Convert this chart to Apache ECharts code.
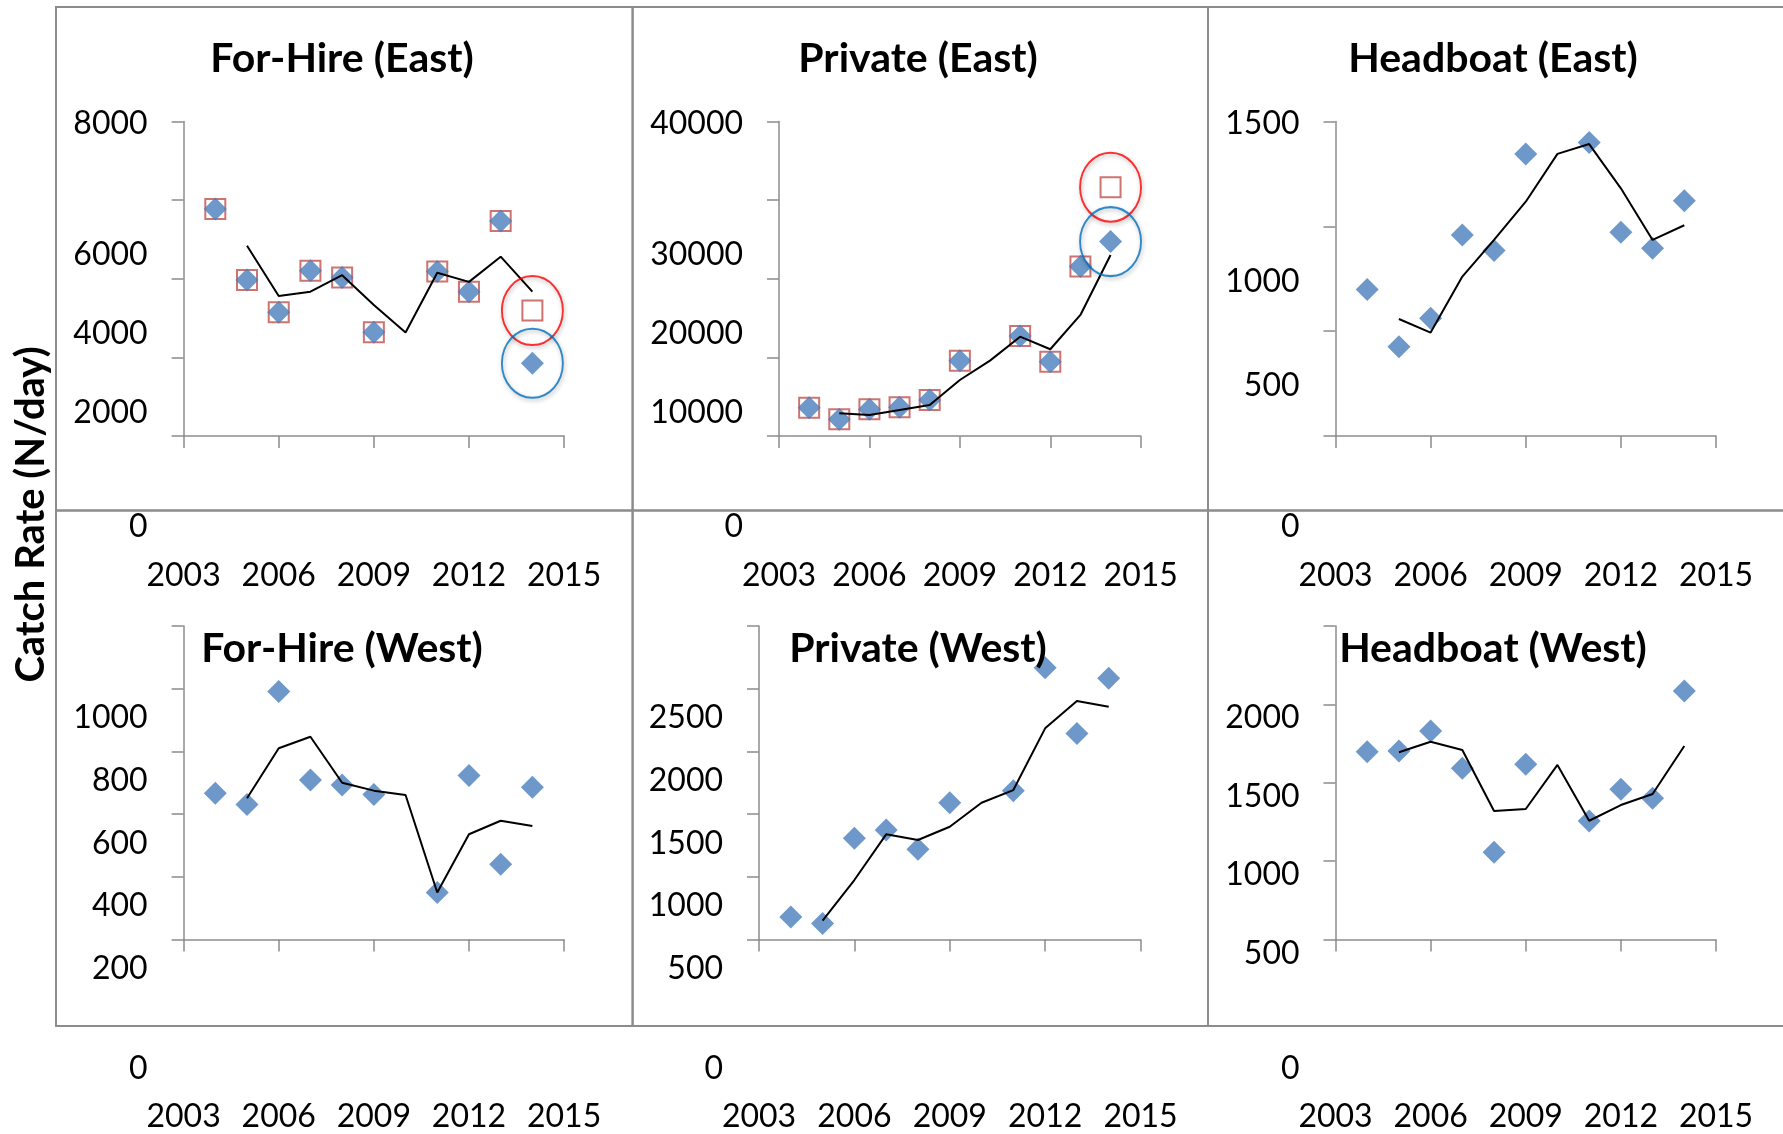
<!DOCTYPE html>
<html>
<head>
<meta charset="utf-8">
<title>Catch Rate (N/day)</title>
<script src="https://cdn.jsdelivr.net/npm/echarts@6/dist/echarts.min.js"></script>
<style>
  html, body { margin: 0; padding: 0; background: #fff; }
  #chart { width: 1783px; height: 1134px; }
</style>
</head>
<body>
<div id="chart"></div>
<script>
// years on the x axis, labelled every third year
const years = ['2003', '2004', '2005', '2006', '2007', '2008', '2009', '2010', '2011', '2012', '2013', '2014', '2015']

// diamonds = observed catch rate, squares = revised estimate, line = running mean
const forHireEastObs = [null, 5770, 3970, 3150, 4200, 4030, 2640, null, 4180, 3670, 5470, 1850, null]
const forHireEastRevised = [null, 5770, 3970, 3150, 4200, 4030, 2640, null, 4180, 3670, 5470, 3190, null]
const forHireEastTrend = [null, null, 4840, 3560, 3670, 4090, 3330, 2630, 4150, 3920, 4560, 3670, null]

const privateEastObs = [null, 3600, 2120, 3400, 3650, 4580, 9580, null, 12720, 9450, 21540, 24720, null]
const privateEastRevised = [null, 3600, 2120, 3400, 3650, 4580, 9580, null, 12720, 9450, 21540, 31630, null]
const privateEastTrend = [null, null, 2890, 2670, 3310, 3940, 7120, 9580, 12630, 11030, 15390, 23020, null]

const headboatEastObs = [null, 699, 426, 561, 958, 884, 1345, null, 1399, 971, 895, 1122, null]
const headboatEastTrend = [null, null, 558, 493, 760, 935, 1117, 1345, 1392, 1181, 935, 1005, null]

const forHireWestObs = [null, 467, 431, 791, 509, 493, 463, null, 150, 523, 240, 486, null]
const forHireWestTrend = [null, null, 451, 610, 647, 500, 475, 461, 150, 336, 379, 362, null]

const privateWestObs = [null, 180, 129, 807, 873, 720, 1091, null, 1187, 2167, 1644, 2083, null]
const privateWestTrend = [null, null, 152, 475, 839, 794, 900, 1091, 1192, 1684, 1902, 1856, null]

const headboatWestObs = [null, 1198, 1203, 1330, 1093, 557, 1118, null, 756, 959, 901, 1586, null]
const headboatWestTrend = [null, null, 1195, 1262, 1209, 820, 833, 1114, 758, 858, 929, 1235, null]

// y axis ranges per panel: [max, interval]
const yMax = [8000, 40000, 1500, 1000, 2500, 2000]
const yStep = [2000, 10000, 500, 200, 500, 500]

const panelTitles = ['For-Hire (East)', 'Private (East)', 'Headboat (East)', 'For-Hire (West)', 'Private (West)', 'Headboat (West)']

// year whose points are circled in the two east panels
const circledYear = '2014'

const FONT = 'Lato, "Open Sans", sans-serif'
const AXIS_GREY = '#8c8c8c'
const BLUE = '#4a7ebb'

const panels = [
  { obs: forHireEastObs, revised: forHireEastRevised, trend: forHireEastTrend },
  { obs: privateEastObs, revised: privateEastRevised, trend: privateEastTrend },
  { obs: headboatEastObs, trend: headboatEastTrend },
  { obs: forHireWestObs, trend: forHireWestTrend },
  { obs: privateWestObs, trend: privateWestTrend },
  { obs: headboatWestObs, trend: headboatWestTrend },
]

const grids = [
  { left: 183.6, top: 121.4, width: 380.5, height: 314.6 },
  { left: 779, top: 121.4, width: 361.7, height: 314.6 },
  { left: 1335.5, top: 121.4, width: 380.5, height: 314.6 },
  { left: 183.6, top: 626, width: 380.5, height: 313.6 },
  { left: 759, top: 626, width: 381.5, height: 313.6 },
  { left: 1335.5, top: 626, width: 380.5, height: 313.6 },
]

// the tick labels sit below their ticks in the original figure
function labelShift(row) {
  return row === 0 ? { top: 2, mid: 55, zero: 91, xMargin: 124 } : { top: 92, mid: 92, zero: 129, xMargin: 161 }
}

function txt(shift) {
  return { fontSize: 32, fontFamily: FONT, color: '#000', padding: [2 * shift, 0, 0, 0] }
}

const ellipse = 'path://M0,50 A50,50 0 1,1 100,50 A50,50 0 1,1 0,50 Z'

function buildOption() {
  const xAxis = []
  const yAxis = []
  const series = []
  const title = []

  panels.forEach((p, i) => {
    const row = i < 3 ? 0 : 1
    const s = labelShift(row)
    const max = yMax[i]

    xAxis.push({
      type: 'category',
      gridIndex: i,
      data: years,
      boundaryGap: false,
      axisLine: { lineStyle: { color: AXIS_GREY, width: 1.5 } },
      axisTick: { interval: 2, length: 12, lineStyle: { color: AXIS_GREY, width: 1.5 } },
      axisLabel: { interval: 2, margin: s.xMargin, fontSize: 32, fontFamily: FONT, color: '#000' },
      splitLine: { show: false },
    })

    yAxis.push({
      type: 'value',
      gridIndex: i,
      min: 0,
      max: max,
      interval: yStep[i],
      axisLine: { show: true, lineStyle: { color: AXIS_GREY, width: 1.5 } },
      axisTick: { show: true, length: 12, lineStyle: { color: AXIS_GREY, width: 1.5 } },
      splitLine: { show: false },
      axisLabel: {
        margin: 36,
        formatter: (v) => (v === 0 ? '{z|0}' : v === max ? '{t|' + v + '}' : '{m|' + v + '}'),
        rich: { t: txt(s.top), m: txt(s.mid), z: txt(s.zero) },
      },
    })

    const centers = [337, 913, 1488]
    title.push({
      text: panelTitles[i],
      left: centers[i % 3],
      top: row === 0 ? 33 : 623,
      textAlign: 'center',
      textStyle: { fontSize: 41, fontWeight: 'bold', fontFamily: FONT, color: '#000' },
    })

    if (p.revised) {
      series.push({
        type: 'scatter',
        xAxisIndex: i,
        yAxisIndex: i,
        symbol: 'rect',
        symbolSize: 20,
        itemStyle: { color: 'rgba(0,0,0,0)', borderColor: '#c0504d', borderWidth: 2 },
        data: p.revised,
        z: 2,
      })
    }

    series.push({
      type: 'scatter',
      xAxisIndex: i,
      yAxisIndex: i,
      symbol: 'diamond',
      symbolSize: 23,
      itemStyle: { color: BLUE },
      data: p.obs,
      z: 3,
    })

    series.push({
      type: 'line',
      xAxisIndex: i,
      yAxisIndex: i,
      showSymbol: false,
      lineStyle: { color: '#000', width: 2 },
      data: p.trend,
      z: 4,
    })

    if (p.revised) {
      const k = years.indexOf(circledYear)
      const ring = (color, value) => ({
        type: 'scatter',
        xAxisIndex: i,
        yAxisIndex: i,
        symbol: ellipse,
        symbolSize: [61, 69],
        itemStyle: {
          color: 'rgba(0,0,0,0)',
          borderColor: color,
          borderWidth: 2,
          shadowBlur: 4,
          shadowColor: 'rgba(0,0,0,0.35)',
          shadowOffsetX: 1,
          shadowOffsetY: 2,
        },
        data: [[circledYear, value]],
        z: 5,
      })
      series.push(ring('#ff0000', p.revised[k]))
      series.push(ring('#0070c0', p.obs[k]))
    }
  })

  const boxes = []
  const xs = [56, 632.6, 1208, 1800]
  const ys = [7, 510.6, 1026]
  for (let r = 0; r < 2; r++) {
    for (let c = 0; c < 3; c++) {
      boxes.push({
        type: 'rect',
        shape: { x: xs[c], y: ys[r], width: xs[c + 1] - xs[c], height: ys[r + 1] - ys[r] },
        style: { fill: 'none', stroke: AXIS_GREY, lineWidth: 2 },
        silent: true,
        z: -1,
      })
    }
  }

  return {
    backgroundColor: '#fff',
    animation: false,
    title,
    grid: grids,
    xAxis,
    yAxis,
    series,
    graphic: [
      ...boxes,
      {
        type: 'text',
        x: 31.5,
        y: 514.5,
        rotation: Math.PI / 2,
        style: {
          text: 'Catch Rate (N/day)',
          font: 'bold 40px ' + FONT,
          fill: '#000',
          align: 'center',
          verticalAlign: 'middle',
        },
      },
    ],
  }
}

const chart = echarts.init(document.getElementById('chart'))
chart.setOption(buildOption())
window.addEventListener('resize', () => chart.resize())
</script>
</body>
</html>
